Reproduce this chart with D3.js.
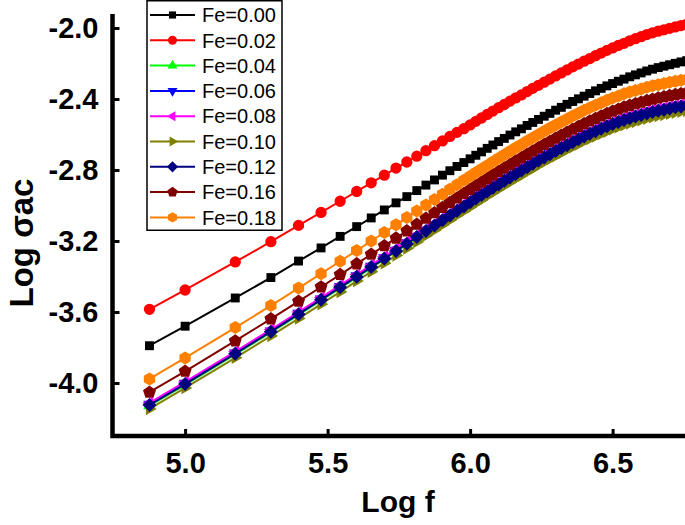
<!DOCTYPE html>
<html><head><meta charset="utf-8">
<script src="https://cdn.jsdelivr.net/npm/d3@7"></script>
<style>
html,body{margin:0;padding:0;background:#fff;}
svg{display:block;font-family:"Liberation Sans",Arial,sans-serif;}
</style></head>
<body>
<svg id="chart" width="685" height="525"></svg>
<script>
// ---------- data ----------
const logF = [4.875,5.000,5.176,5.301,5.398,5.477,5.544,5.602,5.653,5.699,5.740,5.778,5.813,5.845,5.875,5.903,5.929,5.954,5.978,6.000,
6.02,6.04,6.06,6.08,6.10,6.12,6.14,6.16,6.18,6.20,6.22,6.24,6.26,6.28,6.30,6.32,6.34,6.36,6.38,6.40,
6.42,6.44,6.46,6.48,6.50,6.52,6.54,6.56,6.58,6.60,6.62,6.64,6.66,6.68,6.70,6.72,6.74,6.76];

const fe000 = [-3.790,-3.680,-3.521,-3.406,-3.313,-3.239,-3.174,-3.119,-3.070,-3.025,-2.985,-2.950,-2.916,-2.885,-2.856,-2.829,-2.804,-2.780,-2.758,-2.737,
-2.717,-2.698,-2.678,-2.659,-2.640,-2.622,-2.603,-2.585,-2.568,-2.549,-2.532,-2.515,-2.497,-2.481,-2.463,-2.447,-2.430,-2.414,-2.399,-2.384,
-2.369,-2.354,-2.340,-2.326,-2.313,-2.300,-2.288,-2.275,-2.264,-2.253,-2.242,-2.232,-2.223,-2.215,-2.207,-2.199,-2.191,-2.184];
const fe002 = [-3.585,-3.476,-3.318,-3.204,-3.112,-3.039,-2.976,-2.921,-2.872,-2.829,-2.789,-2.755,-2.722,-2.691,-2.663,-2.636,-2.611,-2.588,-2.567,-2.546,
-2.526,-2.507,-2.487,-2.468,-2.449,-2.431,-2.412,-2.394,-2.377,-2.358,-2.340,-2.323,-2.305,-2.288,-2.270,-2.253,-2.236,-2.219,-2.203,-2.187,
-2.172,-2.156,-2.141,-2.126,-2.112,-2.098,-2.086,-2.072,-2.060,-2.049,-2.037,-2.027,-2.018,-2.010,-2.002,-1.994,-1.986,-1.979];
const fe004 = [-4.128,-4.010,-3.839,-3.715,-3.616,-3.535,-3.465,-3.405,-3.351,-3.303,-3.260,-3.219,-3.182,-3.148,-3.117,-3.087,-3.060,-3.034,-3.009,-2.986,
-2.965,-2.945,-2.925,-2.904,-2.885,-2.865,-2.846,-2.826,-2.807,-2.788,-2.769,-2.751,-2.733,-2.715,-2.697,-2.680,-2.664,-2.647,-2.631,-2.615,
-2.600,-2.586,-2.572,-2.558,-2.545,-2.534,-2.522,-2.512,-2.503,-2.494,-2.485,-2.477,-2.470,-2.464,-2.457,-2.451,-2.446,-2.441];
const fe006 = [-4.120,-4.002,-3.831,-3.707,-3.608,-3.527,-3.457,-3.397,-3.343,-3.295,-3.252,-3.211,-3.174,-3.140,-3.109,-3.079,-3.052,-3.026,-3.001,-2.978,
-2.957,-2.937,-2.917,-2.896,-2.877,-2.857,-2.838,-2.818,-2.799,-2.780,-2.761,-2.743,-2.725,-2.707,-2.689,-2.672,-2.656,-2.639,-2.623,-2.607,
-2.592,-2.578,-2.564,-2.550,-2.537,-2.526,-2.514,-2.504,-2.495,-2.486,-2.477,-2.469,-2.462,-2.456,-2.449,-2.443,-2.438,-2.433];
const fe008 = [-4.112,-3.994,-3.823,-3.699,-3.600,-3.519,-3.449,-3.389,-3.335,-3.287,-3.244,-3.203,-3.166,-3.132,-3.101,-3.071,-3.044,-3.018,-2.993,-2.970,
-2.949,-2.929,-2.909,-2.888,-2.869,-2.849,-2.830,-2.810,-2.791,-2.772,-2.753,-2.735,-2.717,-2.699,-2.681,-2.664,-2.648,-2.631,-2.615,-2.599,
-2.584,-2.570,-2.556,-2.542,-2.529,-2.518,-2.506,-2.496,-2.487,-2.478,-2.469,-2.461,-2.454,-2.448,-2.441,-2.435,-2.430,-2.425];
const fe010 = [-4.146,-4.028,-3.858,-3.735,-3.637,-3.556,-3.487,-3.426,-3.373,-3.325,-3.282,-3.242,-3.205,-3.171,-3.140,-3.110,-3.083,-3.057,-3.032,-3.010,
-2.989,-2.969,-2.948,-2.928,-2.909,-2.889,-2.870,-2.850,-2.832,-2.812,-2.794,-2.775,-2.757,-2.740,-2.722,-2.705,-2.688,-2.672,-2.656,-2.640,
-2.625,-2.611,-2.597,-2.584,-2.571,-2.559,-2.548,-2.538,-2.529,-2.520,-2.511,-2.503,-2.496,-2.490,-2.483,-2.477,-2.472,-2.467];
const fe012 = [-4.124,-4.006,-3.835,-3.711,-3.612,-3.531,-3.461,-3.401,-3.347,-3.299,-3.256,-3.215,-3.178,-3.144,-3.113,-3.083,-3.056,-3.030,-3.005,-2.982,
-2.961,-2.941,-2.921,-2.900,-2.881,-2.861,-2.842,-2.822,-2.803,-2.784,-2.765,-2.747,-2.729,-2.711,-2.693,-2.676,-2.660,-2.643,-2.627,-2.611,
-2.596,-2.582,-2.568,-2.554,-2.541,-2.530,-2.518,-2.508,-2.499,-2.490,-2.481,-2.473,-2.466,-2.460,-2.453,-2.447,-2.442,-2.437];
const fe016 = [-4.052,-3.934,-3.763,-3.639,-3.540,-3.459,-3.389,-3.329,-3.275,-3.227,-3.184,-3.143,-3.106,-3.072,-3.041,-3.011,-2.984,-2.958,-2.933,-2.910,
-2.889,-2.869,-2.849,-2.828,-2.809,-2.789,-2.770,-2.750,-2.731,-2.712,-2.693,-2.675,-2.657,-2.639,-2.621,-2.604,-2.588,-2.571,-2.555,-2.539,
-2.524,-2.510,-2.496,-2.482,-2.469,-2.458,-2.446,-2.436,-2.427,-2.418,-2.409,-2.401,-2.394,-2.388,-2.381,-2.375,-2.370,-2.365];
const fe018 = [-3.977,-3.859,-3.688,-3.564,-3.465,-3.384,-3.314,-3.254,-3.200,-3.152,-3.109,-3.068,-3.031,-2.997,-2.966,-2.936,-2.909,-2.883,-2.858,-2.835,
-2.814,-2.794,-2.774,-2.753,-2.734,-2.714,-2.695,-2.675,-2.656,-2.637,-2.618,-2.600,-2.582,-2.564,-2.546,-2.529,-2.513,-2.496,-2.480,-2.464,
-2.449,-2.435,-2.421,-2.407,-2.394,-2.383,-2.371,-2.361,-2.352,-2.343,-2.334,-2.326,-2.319,-2.313,-2.306,-2.300,-2.295,-2.290];

const seriesNames = ["Fe=0.00","Fe=0.02","Fe=0.04","Fe=0.06","Fe=0.08","Fe=0.10","Fe=0.12","Fe=0.16","Fe=0.18"];
const seriesValues = [fe000,fe002,fe004,fe006,fe008,fe010,fe012,fe016,fe018];
const seriesColors = ["#000000","#ff0000","#00ff00","#0000ff","#ff00ff","#808000","#000080","#800000","#ff8000"];
const seriesSymbols = ["square","circle","triUp","triDown","triLeft","triRight","diamond","pentagon","hexagon"];

const xTicks = [5.0,5.5,6.0,6.5];
const yTicks = [-2.0,-2.4,-2.8,-3.2,-3.6,-4.0];

// ---------- drawing ----------
const svg = d3.select("#chart");
const x = d3.scaleLinear().domain([4.747, 6.754]).range([113, 685]);
const y = d3.scaleLinear().domain([-4.2986, -1.9211]).range([436, 14]);

function poly(n, r, rotDeg) {
  const pts = [];
  for (let i = 0; i < n; i++) {
    const a = (rotDeg + i * 360 / n) * Math.PI / 180;
    pts.push([r * Math.sin(a), -r * Math.cos(a)]);
  }
  return "M" + pts.map(p => p[0].toFixed(2) + "," + p[1].toFixed(2)).join("L") + "Z";
}
function symbolPath(kind, s) {
  switch (kind) {
    case "square": return poly(4, 6.3 * s, 45);
    case "circle": return d3.symbol(d3.symbolCircle, 100 * s * s)();
    case "triUp": return poly(3, 7.2 * s, 0);
    case "triDown": return poly(3, 7.2 * s, 180);
    case "triLeft": return poly(3, 7.2 * s, 270);
    case "triRight": return poly(3, 7.2 * s, 90);
    case "diamond": return poly(4, 7.0 * s, 0);
    case "pentagon": return poly(5, 6.8 * s, 0);
    case "hexagon": return poly(6, 6.5 * s, 0);
  }
}

svg.append("defs").append("clipPath").attr("id", "plotclip")
  .append("rect").attr("x", 115).attr("y", 0).attr("width", 570).attr("height", 434);

const plot = svg.append("g").attr("clip-path", "url(#plotclip)");
const line = d3.line().x((d, i) => x(logF[i])).y(d => y(d));

seriesValues.forEach((vals, k) => {
  const g = plot.append("g");
  g.append("path").datum(vals).attr("d", line)
    .attr("fill", "none").attr("stroke", seriesColors[k]).attr("stroke-width", 2);
  g.selectAll("path.m").data(vals).enter().append("path").attr("class", "m")
    .attr("d", symbolPath(seriesSymbols[k], 1))
    .attr("transform", (d, i) => `translate(${x(logF[i])},${y(d)})`)
    .attr("fill", seriesColors[k]);
});

// axes
const font = "'Liberation Sans', Arial, sans-serif";
const yAxis = d3.axisLeft(y).tickValues(yTicks).tickSizeInner(-7).tickSizeOuter(0)
  .tickPadding(14).tickFormat(d => d.toFixed(1));
const gy = svg.append("g").attr("transform", "translate(112.5,0)").call(yAxis);
gy.select(".domain").remove();
gy.selectAll(".tick line").attr("stroke", "#000").attr("stroke-width", 3);
gy.selectAll(".tick text").attr("font-family", font).attr("font-weight", "bold")
  .attr("font-size", 29).attr("fill", "#000");

const xAxis = d3.axisBottom(x).tickValues(xTicks).tickSizeInner(-7).tickSizeOuter(0)
  .tickPadding(16).tickFormat(d => d.toFixed(1));
const gx = svg.append("g").attr("transform", "translate(0,436)").call(xAxis);
gx.select(".domain").remove();
gx.selectAll(".tick line").attr("stroke", "#000").attr("stroke-width", 3);
gx.selectAll(".tick text").attr("font-family", font).attr("font-weight", "bold")
  .attr("font-size", 29).attr("fill", "#000");

svg.append("path").attr("d", "M112.5,14V436H685")
  .attr("fill", "none").attr("stroke", "#000").attr("stroke-width", 4.5);

svg.append("text").attr("x", 398).attr("y", 512).attr("text-anchor", "middle")
  .attr("font-family", font).attr("font-weight", "bold").attr("font-size", 30).text("Log f");
svg.append("text").attr("transform", "translate(33,243) rotate(-90)").attr("text-anchor", "middle")
  .attr("font-family", font).attr("font-weight", "bold").attr("font-size", 33).text("Log σac");

// legend
const leg = svg.append("g");
leg.append("rect").attr("x", 147).attr("y", 0.75).attr("width", 135).attr("height", 229.5)
  .attr("fill", "#fff").attr("stroke", "#000").attr("stroke-width", 1.5);
seriesNames.forEach((name, k) => {
  const cy = 15 + k * 25.3;
  leg.append("line").attr("x1", 150).attr("x2", 195).attr("y1", cy).attr("y2", cy)
    .attr("stroke", seriesColors[k]).attr("stroke-width", 2);
  leg.append("path").attr("d", symbolPath(seriesSymbols[k], 0.8))
    .attr("transform", `translate(172.5,${cy})`).attr("fill", seriesColors[k]);
  leg.append("text").attr("x", 202).attr("y", cy).attr("dy", "0.36em")
    .attr("font-family", font).attr("font-size", 20).attr("fill", "#000").text(name);
});
</script>
</body></html>
